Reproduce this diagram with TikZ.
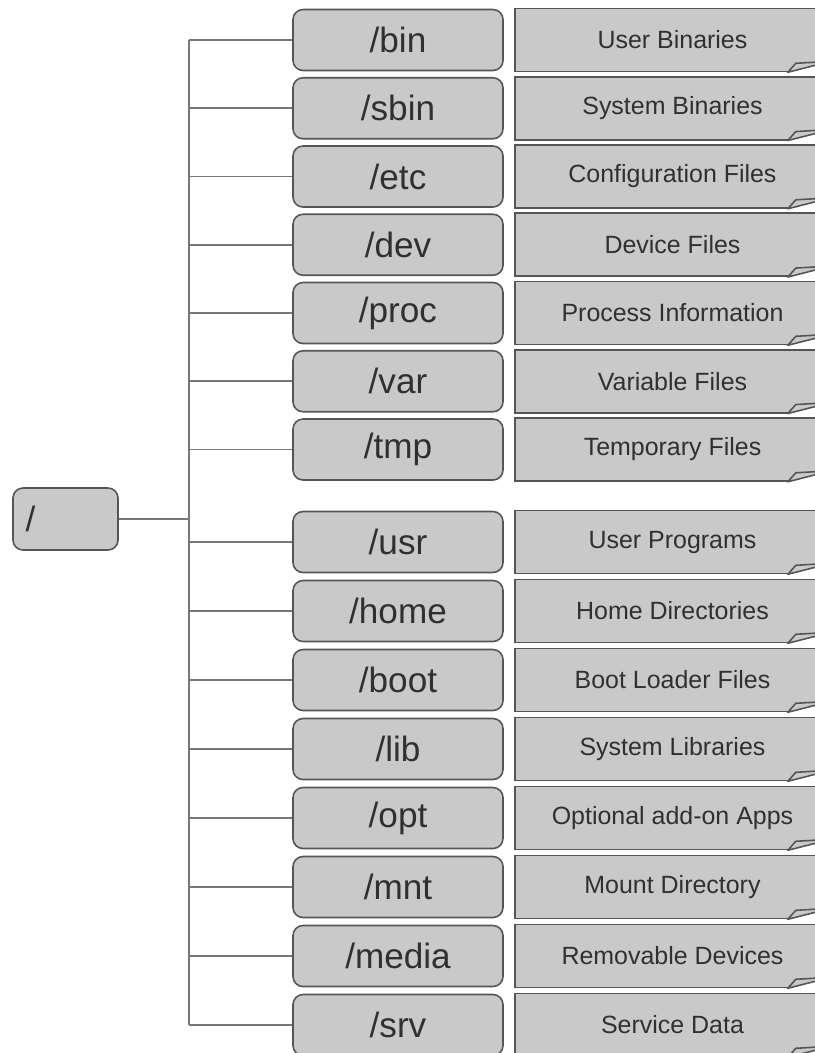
\documentclass[tikz,border=0pt]{standalone}
\usepackage{fontspec}
\setmainfont{Liberation Sans}
\usetikzlibrary{calc}
\definecolor{boxGray}{HTML}{C9C9C9}
\definecolor{edgeGray}{HTML}{555555}
\definecolor{lineGray}{HTML}{777777}
\definecolor{textGray}{HTML}{303030}

\begin{document}
\begin{tikzpicture}[
  dir/.style={rounded corners=0.2cm,draw=edgeGray,fill=boxGray,line width=0.9pt,
    minimum width=4.2cm,minimum height=1.22cm,inner sep=0pt,text=textGray,
    font=\fontsize{20}{24}\selectfont},
  note/.style={draw=edgeGray,fill=boxGray,line width=0.9pt,
    minimum width=6.3cm,minimum height=1.26cm,inner sep=0pt,text=textGray,
    font=\fontsize{14.2}{17}\selectfont},
  link/.style={draw=lineGray,line width=1pt}]
\useasboundingbox (0,0) rectangle (16.3,-21.06);
\clip (0,0) rectangle (16.3,-21.06);
% root and the trunk
\node[dir,minimum width=2.1cm,minimum height=1.24cm,text width=1.6cm,
  inner xsep=0.25cm,align=left] (root) at (1.31,-10.38) {/};
\coordinate (top) at (3.78,-0.8);
\coordinate (bot) at (3.78,-20.5);
% system directories
\node[dir] (bin)  at (7.96,-0.8)   {/bin};
\node[dir] (sbin) at (7.96,-2.165) {/sbin};
\node[dir] (etc)  at (7.96,-3.53)  {/etc};
\node[dir] (dev)  at (7.96,-4.895) {/dev};
\node[dir] (proc) at (7.96,-6.26)  {/proc};
\node[dir] (var)  at (7.96,-7.625) {/var};
\node[dir] (tmp)  at (7.96,-8.99)  {/tmp};
% user side
\node[dir] (usr)   at (7.96,-10.84) {/usr};
\node[dir] (home)  at (7.96,-12.22) {/home};
\node[dir] (boot)  at (7.96,-13.6)  {/boot};
\node[dir] (lib)   at (7.96,-14.98) {/lib};
\node[dir] (opt)   at (7.96,-16.36) {/opt};
\node[dir] (mnt)   at (7.96,-17.74) {/mnt};
\node[dir] (media) at (7.96,-19.12) {/media};
\node[dir] (srv)   at (7.96,-20.5)  {/srv};
% what each one holds
\node[note] (bin-n)   at (13.45,-0.8)   {User Binaries};
\node[note] (sbin-n)  at (13.45,-2.165) {System Binaries};
\node[note] (etc-n)   at (13.45,-3.53)  {Configuration Files};
\node[note] (dev-n)   at (13.45,-4.895) {Device Files};
\node[note] (proc-n)  at (13.45,-6.26)  {Process Information};
\node[note] (var-n)   at (13.45,-7.625) {Variable Files};
\node[note] (tmp-n)   at (13.45,-8.99)  {Temporary Files};
\node[note] (usr-n)   at (13.45,-10.84) {User Programs};
\node[note] (home-n)  at (13.45,-12.22) {Home Directories};
\node[note] (boot-n)  at (13.45,-13.6)  {Boot Loader Files};
\node[note] (lib-n)   at (13.45,-14.98) {System Libraries};
\node[note] (opt-n)   at (13.45,-16.36) {Optional add-on Apps};
\node[note] (mnt-n)   at (13.45,-17.74) {Mount Directory};
\node[note] (media-n) at (13.45,-19.12) {Removable Devices};
\node[note] (srv-n)   at (13.45,-20.5)  {Service Data};
% folded corners
\foreach \n in {bin-n,sbin-n,etc-n,dev-n,proc-n,var-n,tmp-n,usr-n,
    home-n,boot-n,lib-n,opt-n,mnt-n,media-n,srv-n} {
  \fill[white] ($(\n.south east)+(-0.86,-0.05)$) -- ($(\n.south east)+(0.05,-0.05)$)
    -- ($(\n.south east)+(0.05,0.22)$) -- ($(\n.south east)+(-0.86,0)$) -- cycle;
  \draw[edgeGray,fill=boxGray,line width=0.9pt,line join=round]
    ($(\n.south east)+(-0.86,0)$) -- ($(\n.south east)+(-0.7,0.18)$)
    -- ($(\n.south east)+(0,0.22)$) -- cycle;
}
% connectors
\draw[link] (top) -- (bot);
\draw[link] (root.east) -- (root.east -| top);
\foreach \d in {bin,sbin,etc,dev,proc,var,tmp,usr,home,boot,lib,opt,mnt,media,srv}
  \draw[link] (\d.west) -- (\d.west -| top);
\end{tikzpicture}
\end{document}
